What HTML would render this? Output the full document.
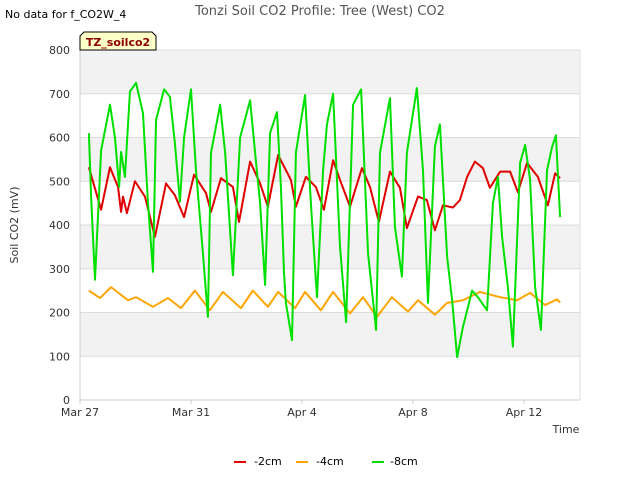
<!DOCTYPE html>
<html><head><meta charset="utf-8"><style>
body{margin:0;background:#fff;font-family:"Liberation Sans",sans-serif}
svg text{font-family:"DejaVu Sans","Liberation Sans",sans-serif}
</style></head><body>
<svg id="chart" width="640" height="480" xmlns="http://www.w3.org/2000/svg">
<text x="5" y="18" font-size="11" fill="#000">No data for f_CO2W_4</text>
<text x="320" y="15" font-size="13" fill="#555" text-anchor="middle">Tonzi Soil CO2 Profile: Tree (West) CO2</text>
<g id="bands"></g>
<g id="axes"></g>
<g id="series"></g>
<g>
<path d="M80,50 L80,36 L84,32 L152,32 L156,36 L156,50 Z" fill="#ffffc8" stroke="#000" stroke-width="1"/>
<text x="118" y="46" font-size="11" font-weight="bold" fill="#8b0000" text-anchor="middle">TZ_soilco2</text>
</g>
<text transform="translate(18,225) rotate(-90)" font-size="11" fill="#333" text-anchor="middle">Soil CO2 (mV)</text>
<text x="566" y="433" font-size="11" fill="#333" text-anchor="middle">Time</text>
<g>
<line x1="234" y1="462" x2="246" y2="462" stroke="#e00000" stroke-width="2"/><text x="254" y="465" font-size="11" fill="#000">-2cm</text>
<line x1="296" y1="462" x2="308" y2="462" stroke="#ffa500" stroke-width="2"/><text x="316" y="465" font-size="11" fill="#000">-4cm</text>
<line x1="372" y1="462" x2="384" y2="462" stroke="#00e000" stroke-width="2"/><text x="390" y="465" font-size="11" fill="#000">-8cm</text>
</g>
</svg>
<script>
const yTicks=[0,100,200,300,400,500,600,700,800];
const xTickDays=[0,4,8,12,16];
const xTickLabels=["Mar 27","Mar 31","Apr 4","Apr 8","Apr 12"];
const greenDays=[0.32,0.40,0.54,0.76,1.08,1.26,1.41,1.48,1.62,1.80,2.02,2.27,2.45,2.63,2.74,3.03,3.24,3.42,3.60,3.75,4.00,4.18,4.43,4.61,4.72,5.05,5.23,5.51,5.77,6.13,6.31,6.49,6.67,6.85,7.10,7.24,7.35,7.42,7.64,7.78,8.11,8.32,8.54,8.76,8.90,9.12,9.37,9.59,9.84,10.13,10.38,10.67,10.81,11.17,11.35,11.60,11.78,12.14,12.36,12.54,12.79,12.97,13.23,13.41,13.59,13.80,14.13,14.34,14.67,14.88,15.06,15.21,15.42,15.60,15.86,16.04,16.22,16.40,16.61,16.83,17.01,17.15,17.30];
const greenVals=[610,465,275,570,675,600,487,567,510,705,725,655,450,293,640,710,693,587,453,600,710,525,335,190,565,675,565,285,600,685,565,450,263,610,658,487,293,222,137,565,697,450,235,525,630,700,350,178,675,710,335,160,565,690,395,282,565,713,525,222,580,630,327,228,98,167,250,235,205,450,510,373,258,122,542,583,503,258,160,525,578,605,418];
const redDays=[0.32,0.76,1.08,1.37,1.48,1.55,1.69,1.98,2.34,2.70,3.10,3.42,3.75,4.11,4.54,4.72,5.08,5.51,5.73,6.13,6.49,6.77,7.14,7.60,7.78,8.14,8.50,8.79,9.12,9.37,9.73,10.16,10.45,10.77,11.17,11.53,11.78,12.18,12.50,12.79,13.08,13.44,13.69,13.95,14.23,14.52,14.77,15.14,15.50,15.78,16.11,16.50,16.86,17.12,17.30];
const redVals=[532,435,532,487,430,465,427,500,465,373,495,468,418,515,473,430,507,487,407,545,495,442,560,503,442,510,487,435,548,503,442,530,487,407,522,485,393,465,457,388,445,440,457,510,545,530,485,522,522,475,542,510,445,518,507];
const orangeDays=[0.32,0.72,1.12,1.73,2.02,2.63,3.17,3.64,4.14,4.68,5.15,5.80,6.23,6.77,7.14,7.75,8.11,8.68,9.12,9.73,10.20,10.70,11.24,11.82,12.18,12.79,13.23,13.80,14.41,15.14,15.75,16.22,16.76,17.19,17.30];
const orangeVals=[250,233,258,228,235,213,233,210,250,205,247,210,250,213,247,210,247,205,247,198,235,190,235,202,228,195,222,228,247,235,228,245,217,230,223];
const L=80,R=580,T=50,B=400;
const xS=d=>L+d*27.75;
const yS=v=>B-(v/800)*(B-T);
const NS="http://www.w3.org/2000/svg";
function mk(tag,attrs,parent){const e=document.createElementNS(NS,tag);for(const k in attrs)e.setAttribute(k,attrs[k]);parent.appendChild(e);return e;}
const bands=document.getElementById('bands'),axes=document.getElementById('axes'),ser=document.getElementById('series');
for(let i=0;i<yTicks.length-1;i++){
  const r=mk('rect',{x:L,y:yS(yTicks[i+1]),width:R-L,height:yS(yTicks[i])-yS(yTicks[i+1]),fill:(i%2===1)?'#f2f2f2':'#ffffff'},bands);
  
  
}
yTicks.forEach(v=>{
  const g=mk('line',{x1:L,x2:R,y1:yS(v),y2:yS(v),stroke:'#dcdcdc','stroke-width':1},axes);
  
  
  const t=mk('text',{x:L-10,y:yS(v)+4,'font-size':11,fill:'#333','text-anchor':'end'},axes);
  t.textContent=v;
  
  
});
mk('line',{x1:L,x2:L,y1:T,y2:B,stroke:'#ccc'},axes);
mk('line',{x1:R,x2:R,y1:T,y2:B,stroke:'#ddd'},axes);
mk('line',{x1:L,x2:R,y1:B,y2:B,stroke:'#ccc'},axes);
xTickDays.forEach((d,i)=>{
  mk('line',{x1:xS(d),x2:xS(d),y1:B,y2:B+4,stroke:'#ccc'},axes);
  const t=mk('text',{x:xS(d),y:B+16,'font-size':11,fill:'#333','text-anchor':'middle'},axes);
  t.textContent=xTickLabels[i];
  
  
});
function line(days,vals,color,name){
  const p=mk('polyline',{points:days.map((d,i)=>xS(d)+','+yS(vals[i])).join(' '),fill:'none',stroke:color,'stroke-width':2,'stroke-linejoin':'round'},ser);
  
  
}
line(redDays,redVals,'#e00000','series-2cm');
line(orangeDays,orangeVals,'#ffa500','series-4cm');
line(greenDays,greenVals,'#00e000','series-8cm');
</script>
</body></html>
